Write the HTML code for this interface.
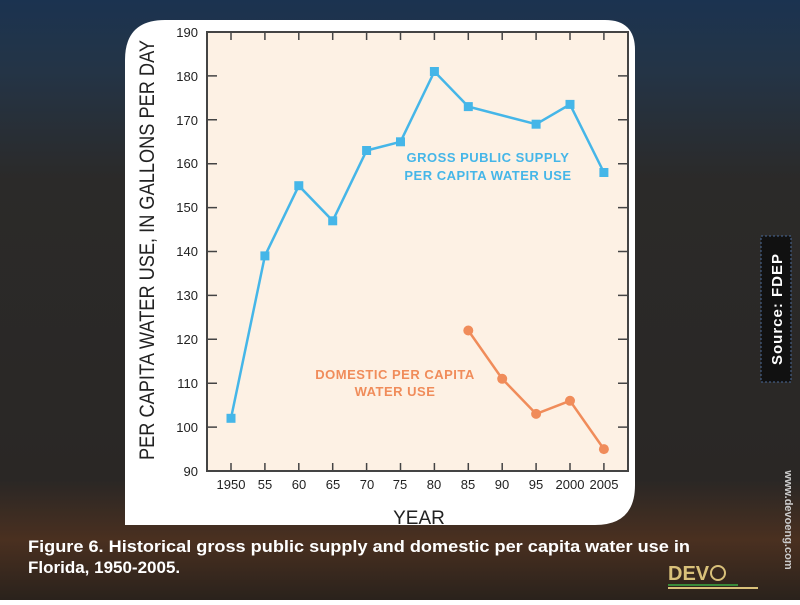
<!DOCTYPE html>
<html><head><meta charset="utf-8"><style>
body{margin:0;width:800px;height:600px;overflow:hidden;font-family:"Liberation Sans",sans-serif;}
</style></head><body>
<svg width="800" height="600" xmlns="http://www.w3.org/2000/svg">
<defs>
<linearGradient id="bg" x1="0" y1="0" x2="0" y2="1">
<stop offset="0" stop-color="#1b3350"/><stop offset="0.12" stop-color="#243446"/>
<stop offset="0.3" stop-color="#2b2a29"/><stop offset="0.8" stop-color="#2a2725"/>
<stop offset="0.9" stop-color="#4a3020"/><stop offset="1" stop-color="#2a221c"/>
</linearGradient>
</defs>
<rect width="800" height="600" fill="url(#bg)"/>
<path d="M165 20 H605 Q635 20 635 50 V485 Q635 525 595 525 H125 V60 Q125 20 165 20 Z" fill="#fff"/>
<rect x="207" y="32" width="421" height="439" fill="#fdf1e4" stroke="#444" stroke-width="2"/>
<g stroke="#444" stroke-width="1.5">
<path d="M231 32v8M264.9 32v8M298.8 32v8M332.7 32v8M366.6 32v8M400.5 32v8M434.4 32v8M468.3 32v8M502.2 32v8M536.1 32v8M570 32v8M603.9 32v8"/>
<path d="M231 471v-8M264.9 471v-8M298.8 471v-8M332.7 471v-8M366.6 471v-8M400.5 471v-8M434.4 471v-8M468.3 471v-8M502.2 471v-8M536.1 471v-8M570 471v-8M603.9 471v-8"/>
<path d="M207 75.9h10M207 119.8h10M207 163.7h10M207 207.6h10M207 251.5h10M207 295.4h10M207 339.3h10M207 383.2h10M207 427.1h10"/>
<path d="M628 75.9h-10M628 119.8h-10M628 163.7h-10M628 207.6h-10M628 251.5h-10M628 295.4h-10M628 339.3h-10M628 383.2h-10M628 427.1h-10"/>
</g>
<g font-size="13" fill="#222" text-anchor="end">
<text x="198" y="37">190</text><text x="198" y="81">180</text><text x="198" y="125">170</text><text x="198" y="168">160</text><text x="198" y="212">150</text><text x="198" y="256">140</text><text x="198" y="300">130</text><text x="198" y="344">120</text><text x="198" y="388">110</text><text x="198" y="432">100</text><text x="198" y="476">90</text>
</g>
<g font-size="13" fill="#222" text-anchor="middle">
<text x="231" y="489">1950</text><text x="265" y="489">55</text><text x="299" y="489">60</text><text x="333" y="489">65</text><text x="367" y="489">70</text><text x="400" y="489">75</text><text x="434" y="489">80</text><text x="468" y="489">85</text><text x="502" y="489">90</text><text x="536" y="489">95</text><text x="570" y="489">2000</text><text x="604" y="489">2005</text>
</g>
<text x="419" y="524" font-size="19" fill="#222" text-anchor="middle">YEAR</text>
<text transform="translate(154 250) rotate(-90)" font-size="21" fill="#222" text-anchor="middle" textLength="420" lengthAdjust="spacingAndGlyphs">PER CAPITA WATER USE, IN GALLONS PER DAY</text>
<polyline fill="none" stroke="#45b6e8" stroke-width="2.5" points="231,418.3 264.9,255.9 298.8,185.7 332.7,220.8 366.6,150.5 400.5,141.8 434.4,71.5 468.3,106.6 536.1,124.2 570,104.4 603.9,172.5"/>
<g fill="#45b6e8">
<rect x="226.5" y="413.8" width="9" height="9"/><rect x="260.4" y="251.4" width="9" height="9"/><rect x="294.3" y="181.2" width="9" height="9"/><rect x="328.2" y="216.3" width="9" height="9"/><rect x="362.1" y="146" width="9" height="9"/><rect x="396" y="137.3" width="9" height="9"/><rect x="429.9" y="67" width="9" height="9"/><rect x="463.8" y="102.1" width="9" height="9"/><rect x="531.6" y="119.7" width="9" height="9"/><rect x="565.5" y="99.9" width="9" height="9"/><rect x="599.4" y="168" width="9" height="9"/>
</g>
<polyline fill="none" stroke="#f08c5a" stroke-width="2.5" points="468.3,330.5 502.2,378.8 536.1,413.9 570,400.8 603.9,449.1"/>
<g fill="#f08c5a">
<circle cx="468.3" cy="330.5" r="5"/><circle cx="502.2" cy="378.8" r="5"/><circle cx="536.1" cy="413.9" r="5"/><circle cx="570" cy="400.8" r="5"/><circle cx="603.9" cy="449.1" r="5"/>
</g>
<g font-size="13" font-weight="bold" fill="#45b6e8" text-anchor="middle" letter-spacing="0.5">
<text x="488" y="162">GROSS PUBLIC SUPPLY</text><text x="488" y="180">PER CAPITA WATER USE</text>
</g>
<g font-size="13" font-weight="bold" fill="#f08c5a" text-anchor="middle" letter-spacing="0.5">
<text x="395" y="379">DOMESTIC PER CAPITA</text><text x="395" y="396">WATER USE</text>
</g>
<g font-size="17" font-weight="bold" fill="#fff">
<text x="28" y="552" textLength="662" lengthAdjust="spacingAndGlyphs">Figure 6. Historical gross public supply and domestic per capita water use in</text>
<text x="28" y="573">Florida, 1950-2005.</text>
</g>
<rect x="761" y="236" width="30" height="146" fill="#111" stroke="#4a6a9a" stroke-dasharray="2 2"/>
<text transform="translate(782 309) rotate(-90)" font-size="15" font-weight="bold" fill="#fff" text-anchor="middle" letter-spacing="1">Source: FDEP</text>
<text transform="translate(785 520) rotate(90)" font-size="11" font-weight="bold" fill="#ccc" text-anchor="middle">www.devoeng.com</text>
<text x="668" y="580" font-size="20" font-weight="bold" fill="#d9c17a">DEV</text>
<circle cx="718" cy="573" r="7" fill="none" stroke="#d9c17a" stroke-width="2"/>
<rect x="668" y="584" width="70" height="2" fill="#3a8a3a"/>
<rect x="668" y="587" width="90" height="2" fill="#d9c17a"/>
</svg>
</body></html>
